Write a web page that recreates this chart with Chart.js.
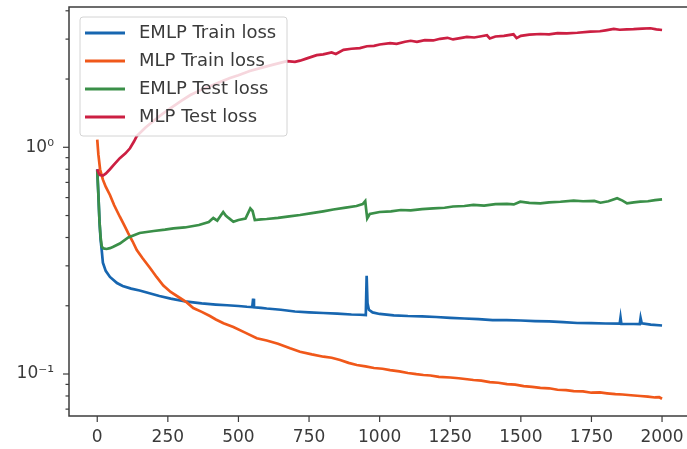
<!DOCTYPE html>
<html>
<head>
<meta charset="utf-8">
<title>EMLP vs MLP loss</title>
<script src="https://cdn.jsdelivr.net/npm/chart.js@4.4.0/dist/chart.umd.min.js"></script>
<style>
	html, body { margin: 0; padding: 0; background: #fff; overflow: hidden; }
	#wrap { width: 690px; height: 449px; }
</style>
</head>
<body>
<div id="wrap"><canvas id="lossChart" width="690" height="449"></canvas></div>
<script>
// Tick values of the two axes
const xTicks = [0, 250, 500, 750, 1000, 1250, 1500, 1750, 2000];
const yTicks = [0.07, 0.08, 0.09, 0.1, 0.2, 0.3, 0.4, 0.5, 0.6, 0.7, 0.8, 0.9, 1, 2, 3, 4];
const yLabels = { 1: "10\u2070", 0.1: "10\u207B\u00B9" };

const seriesNames = ["EMLP Train loss", "MLP Train loss", "EMLP Test loss", "MLP Test loss"];

// EMLP train loss
const emlpTrainEpochs = [0, 4, 8, 12, 16, 20, 30, 45, 70, 90, 120, 150, 185, 220, 260, 317, 370, 420, 460, 500, 530, 549, 552, 555, 580, 600, 650, 700, 750, 800, 850, 900, 930, 951, 954, 957, 962, 975, 1000, 1050, 1100, 1150, 1200, 1250, 1300, 1350, 1400, 1450, 1500, 1550, 1600, 1650, 1700, 1750, 1800, 1850, 1853, 1856, 1900, 1921, 1924, 1928, 1960, 2000];
const emlpTrainLoss = [0.80, 0.62, 0.47, 0.39, 0.35, 0.31, 0.285, 0.268, 0.252, 0.2445, 0.238, 0.2335, 0.227, 0.2208, 0.215, 0.2084, 0.205, 0.2025, 0.201, 0.1995, 0.198, 0.1975, 0.215, 0.1968, 0.1958, 0.1945, 0.192, 0.1887, 0.187, 0.1858, 0.1845, 0.183, 0.1825, 0.182, 0.271, 0.205, 0.192, 0.187, 0.184, 0.1815, 0.1802, 0.1795, 0.1784, 0.177, 0.1757, 0.1745, 0.173, 0.1728, 0.1722, 0.1712, 0.1705, 0.1695, 0.1679, 0.1676, 0.167, 0.1668, 0.1775, 0.1665, 0.1662, 0.166, 0.1766, 0.1672, 0.165, 0.1637];

// MLP train loss
const mlpTrainEpochs = [0, 4, 10, 20, 30, 45, 60, 80, 95, 110, 125, 140, 160, 187, 210, 234, 260, 293, 317, 340, 370, 399, 420, 447, 482, 520, 565, 600, 640, 683, 718, 760, 801, 830, 860, 890, 919, 950, 980, 1010, 1037, 1070, 1100, 1130, 1155, 1180, 1210, 1250, 1280, 1310, 1332, 1360, 1390, 1420, 1451, 1480, 1510, 1540, 1569, 1600, 1630, 1660, 1687, 1720, 1750, 1780, 1805, 1835, 1860, 1890, 1923, 1950, 1975, 1990, 2000];
const mlpTrainLoss = [1.08, 0.93, 0.80, 0.72, 0.67, 0.616, 0.555, 0.494, 0.455, 0.4175, 0.385, 0.352, 0.325, 0.2935, 0.268, 0.2457, 0.23, 0.2164, 0.207, 0.1955, 0.188, 0.1802, 0.174, 0.1674, 0.1612, 0.153, 0.1438, 0.1405, 0.136, 0.1298, 0.1254, 0.122, 0.1192, 0.118, 0.1153, 0.112, 0.1096, 0.108, 0.1063, 0.1055, 0.1041, 0.1027, 0.101, 0.0998, 0.099, 0.0985, 0.0972, 0.0965, 0.0958, 0.0948, 0.0941, 0.0935, 0.0921, 0.0915, 0.0903, 0.0898, 0.0884, 0.0878, 0.0868, 0.0865, 0.0852, 0.0849, 0.0841, 0.0838, 0.0827, 0.0829, 0.0822, 0.0815, 0.0812, 0.0806, 0.08, 0.0795, 0.0788, 0.079, 0.0778];

// EMLP test loss
const emlpTestEpochs = [0, 4, 8, 12, 16, 22, 33, 45, 55, 80, 110, 150, 200, 240, 270, 310, 360, 395, 411, 425, 435, 446, 455, 465, 482, 500, 525, 535, 542, 550, 558, 580, 600, 640, 680, 718, 760, 800, 836, 880, 918, 940, 949, 952, 956, 965, 1000, 1040, 1075, 1110, 1150, 1190, 1230, 1260, 1300, 1332, 1370, 1410, 1451, 1475, 1498, 1530, 1569, 1600, 1640, 1687, 1720, 1760, 1782, 1810, 1841, 1860, 1876, 1900, 1923, 1950, 1975, 2000];
const emlpTestLoss = [0.79, 0.62, 0.47, 0.40, 0.365, 0.358, 0.356, 0.359, 0.3632, 0.3763, 0.40, 0.4187, 0.4273, 0.433, 0.4392, 0.443, 0.4542, 0.468, 0.4876, 0.475, 0.495, 0.5183, 0.50, 0.488, 0.4697, 0.478, 0.485, 0.515, 0.537, 0.5236, 0.4778, 0.481, 0.4827, 0.488, 0.496, 0.5028, 0.512, 0.522, 0.5318, 0.542, 0.551, 0.562, 0.5795, 0.535, 0.486, 0.508, 0.5183, 0.522, 0.5289, 0.527, 0.534, 0.538, 0.541, 0.548, 0.551, 0.5566, 0.553, 0.561, 0.5623, 0.56, 0.5754, 0.569, 0.5662, 0.572, 0.575, 0.5812, 0.578, 0.58, 0.5695, 0.578, 0.5957, 0.582, 0.5662, 0.572, 0.5754, 0.578, 0.585, 0.589];

// MLP test loss
const mlpTestEpochs = [0, 5, 10, 20, 30, 45, 60, 80, 100, 116, 130, 140, 170, 200, 230, 260, 300, 330, 370, 400, 435, 470, 500, 540, 580, 620, 672, 700, 718, 740, 777, 800, 830, 845, 872, 900, 930, 955, 980, 1000, 1037, 1060, 1090, 1110, 1132, 1160, 1190, 1214, 1240, 1260, 1290, 1309, 1335, 1360, 1380, 1390, 1410, 1440, 1474, 1485, 1500, 1530, 1569, 1600, 1630, 1663, 1700, 1746, 1780, 1800, 1829, 1850, 1875, 1899, 1930, 1959, 1980, 2000];
const mlpTestLoss = [0.80, 0.77, 0.755, 0.75, 0.765, 0.80, 0.84, 0.895, 0.94, 0.99, 1.06, 1.12, 1.22, 1.31, 1.40, 1.49, 1.61, 1.70, 1.80, 1.86, 1.94, 2.02, 2.08, 2.17, 2.24, 2.31, 2.40, 2.38, 2.41, 2.46, 2.55, 2.57, 2.62, 2.58, 2.69, 2.72, 2.74, 2.79, 2.80, 2.84, 2.88, 2.86, 2.92, 2.95, 2.92, 2.97, 2.96, 3.01, 3.04, 2.99, 3.04, 3.07, 3.05, 3.09, 3.12, 3.02, 3.08, 3.10, 3.15, 3.03, 3.10, 3.14, 3.16, 3.15, 3.19, 3.18, 3.20, 3.24, 3.25, 3.28, 3.33, 3.30, 3.31, 3.32, 3.34, 3.35, 3.31, 3.29];

const seriesColors = ["#1766b0", "#f0581a", "#3a8f48", "#cc1f42"];
const textColor = "#3a3a3a";
const axisColor = "#3c3c3c";

// Pair the epochs with the losses for a linear x scale
function toPoints(epochs, losses) {
	return epochs.map((e, i) => ({ x: e, y: losses[i] }));
}

// Frame, tick marks and legend in matplotlib style
const framePlugin = {
	id: "frame",
	afterDatasetsDraw(chart) {
		const { ctx, chartArea: a, scales } = chart;
		ctx.save();
		ctx.strokeStyle = axisColor;
		ctx.lineWidth = 1.2;
		yTicks.forEach((v) => {
			const y = scales.y.getPixelForValue(v);
			const len = yLabels[v] ? 6 : 3.5;
			ctx.beginPath();
			ctx.moveTo(a.left - len, y);
			ctx.lineTo(a.left, y);
			ctx.stroke();
		});
		xTicks.forEach((v) => {
			const x = scales.x.getPixelForValue(v);
			ctx.beginPath();
			ctx.moveTo(x, a.bottom);
			ctx.lineTo(x, a.bottom + 6);
			ctx.stroke();
		});
		// the right spine falls outside the picture, so only three sides
		ctx.lineWidth = 1.5;
		ctx.beginPath();
		ctx.moveTo(chart.width, a.top);
		ctx.lineTo(a.left, a.top);
		ctx.lineTo(a.left, a.bottom);
		ctx.lineTo(chart.width, a.bottom);
		ctx.stroke();

		// legend box
		const lx = a.left + 11;
		const ly = a.top + 10;
		ctx.fillStyle = "rgba(255, 255, 255, 0.82)";
		ctx.strokeStyle = "#d4d4d4";
		ctx.lineWidth = 1;
		ctx.beginPath();
		ctx.roundRect(lx, ly, 207, 119, 3);
		ctx.fill();
		ctx.stroke();
		ctx.font = "18px 'DejaVu Sans'";
		ctx.textBaseline = "middle";
		seriesNames.forEach((name, i) => {
			const y = ly + 16 + i * 28;
			ctx.strokeStyle = seriesColors[i];
			ctx.lineWidth = 3;
			ctx.beginPath();
			ctx.moveTo(lx + 5, y);
			ctx.lineTo(lx + 45, y);
			ctx.stroke();
			ctx.fillStyle = textColor;
			ctx.fillText(name, lx + 59, y);
		});
		ctx.restore();
	},
};

const datasets = [
	[emlpTrainEpochs, emlpTrainLoss],
	[mlpTrainEpochs, mlpTrainLoss],
	[emlpTestEpochs, emlpTestLoss],
	[mlpTestEpochs, mlpTestLoss],
].map(([epochs, losses], i) => ({
	label: seriesNames[i],
	data: toPoints(epochs, losses),
	borderColor: seriesColors[i],
	backgroundColor: seriesColors[i],
	borderWidth: 2.7,
	pointRadius: 0,
	tension: 0,
	order: 3 - i, // later series on top, as in matplotlib
}));

const tickFont = { family: "'DejaVu Sans'", size: 17 };

new Chart(document.getElementById("lossChart").getContext("2d"), {
	type: "line",
	data: { datasets },
	options: {
		responsive: false,
		animation: false,
		events: [],
		layout: { padding: { top: 7, right: 0, bottom: 0, left: 0 } },
		plugins: {
			legend: { display: false },
			tooltip: { enabled: false },
		},
		scales: {
			x: {
				type: "linear",
				min: -100,
				max: 2099,
				grid: { display: false, drawTicks: false },
				border: { display: false },
				afterFit(scale) {
					scale.height = 33;
					scale.paddingLeft = 0;
					scale.paddingRight = 0;
				},
				afterBuildTicks(scale) {
					scale.ticks = xTicks.map((v) => ({ value: v }));
				},
				ticks: {
					autoSkip: false,
					maxRotation: 0,
					padding: 11,
					color: textColor,
					font: tickFont,
					callback: (v) => String(v),
				},
			},
			y: {
				type: "logarithmic",
				min: 0.06528,
				max: 4.157,
				grid: { display: false, drawTicks: false },
				border: { display: false },
				afterFit(scale) {
					scale.width = 69;
					scale.paddingTop = 0;
					scale.paddingBottom = 0;
				},
				afterBuildTicks(scale) {
					scale.ticks = yTicks.map((v) => ({ value: v }));
				},
				ticks: {
					autoSkip: false,
					padding: 15,
					color: textColor,
					font: tickFont,
					callback: (v) => yLabels[v] || "",
				},
			},
		},
	},
	plugins: [framePlugin],
});
</script>
</body>
</html>
